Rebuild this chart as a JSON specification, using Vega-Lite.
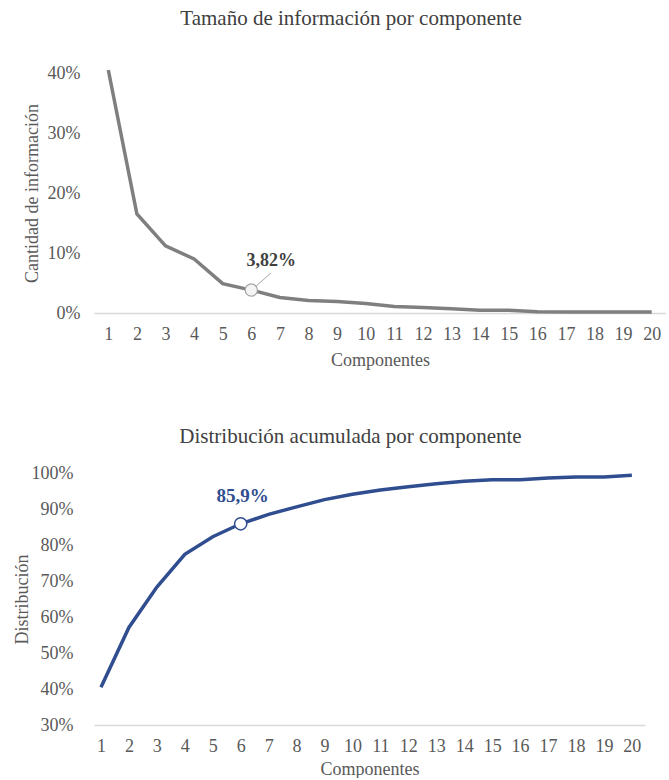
{
  "$schema": "https://vega.github.io/schema/vega-lite/v6.json",
  "padding": {"left": 13, "top": 8, "right": 0, "bottom": 0},
  "spacing": 57,
  "config": {
    "font": "Liberation Serif",
    "view": {"stroke": null},
    "axis": {
      "grid": false,
      "ticks": false,
      "labelFont": "Liberation Serif",
      "titleFont": "Liberation Serif",
      "labelFontSize": 18,
      "titleFontSize": 18,
      "labelColor": "#595959",
      "titleColor": "#595959",
      "titleFontWeight": "normal",
      "labelFlush": false,
      "labelOverlap": false,
      "tickCount": 30
    },
    "title": {
      "font": "Liberation Serif",
      "fontSize": 21,
      "fontWeight": "normal",
      "color": "#404040",
      "anchor": "middle",
      "frame": "group"
    }
  },
  "datasets": {
    "info": [
      {"comp": 1, "pct": 0.405},
      {"comp": 2, "pct": 0.165},
      {"comp": 3, "pct": 0.112},
      {"comp": 4, "pct": 0.09},
      {"comp": 5, "pct": 0.049},
      {"comp": 6, "pct": 0.0382},
      {"comp": 7, "pct": 0.026},
      {"comp": 8, "pct": 0.021},
      {"comp": 9, "pct": 0.019},
      {"comp": 10, "pct": 0.016},
      {"comp": 11, "pct": 0.011},
      {"comp": 12, "pct": 0.009},
      {"comp": 13, "pct": 0.007},
      {"comp": 14, "pct": 0.0045},
      {"comp": 15, "pct": 0.0045},
      {"comp": 16, "pct": 0.002},
      {"comp": 17, "pct": 0.0015},
      {"comp": 18, "pct": 0.0015},
      {"comp": 19, "pct": 0.0015},
      {"comp": 20, "pct": 0.0015}
    ],
    "acum": [
      {"comp": 1, "pct": 0.405},
      {"comp": 2, "pct": 0.571},
      {"comp": 3, "pct": 0.683},
      {"comp": 4, "pct": 0.774},
      {"comp": 5, "pct": 0.823},
      {"comp": 6, "pct": 0.859},
      {"comp": 7, "pct": 0.885},
      {"comp": 8, "pct": 0.906},
      {"comp": 9, "pct": 0.926},
      {"comp": 10, "pct": 0.941},
      {"comp": 11, "pct": 0.953},
      {"comp": 12, "pct": 0.962},
      {"comp": 13, "pct": 0.97},
      {"comp": 14, "pct": 0.977},
      {"comp": 15, "pct": 0.981},
      {"comp": 16, "pct": 0.981},
      {"comp": 17, "pct": 0.986},
      {"comp": 18, "pct": 0.989},
      {"comp": 19, "pct": 0.989},
      {"comp": 20, "pct": 0.994}
    ],
    "topnote": [
      {"comp": 6, "pct": 0.0382, "label": "3,82%", "x1": 6.13, "y1": 0.0433, "x2": 6.69, "y2": 0.0667}
    ],
    "botnote": [
      {"comp": 6, "pct": 0.859, "label": "85,9%"}
    ]
  },
  "vconcat": [
    {
      "width": 572,
      "height": 240,
      "title": {"text": "Tamaño de información por componente", "dx": -29, "offset": 34},
      "layer": [
        {
          "data": {"name": "info"},
          "mark": {"type": "line", "color": "#7f7f7f", "strokeWidth": 3.5},
          "encoding": {
            "x": {
              "field": "comp", "type": "quantitative",
              "scale": {"domain": [0.5, 20.5], "nice": false, "zero": false},
              "axis": {
                "title": "Componentes",
                "values": [1,2,3,4,5,6,7,8,9,10,11,12,13,14,15,16,17,18,19,20],
                "tickCount": 30,
                "format": "d",
                "labelOverlap": false,
                "domainColor": "#d9d9d9",
                "domainWidth": 1.5,
                "labelPadding": 12,
                "titlePadding": 8
              }
            },
            "y": {
              "field": "pct", "type": "quantitative",
              "scale": {"domain": [0, 0.4], "nice": false},
              "axis": {
                "title": "Cantidad de información",
                "values": [0, 0.1, 0.2, 0.3, 0.4],
                "tickCount": 30,
                "format": ".0%",
                "labelOverlap": false,
                "domain": false,
                "labelPadding": 14,
                "titlePadding": 6
              }
            }
          }
        },
        {
          "data": {"name": "topnote"},
          "mark": {"type": "rule", "color": "#a6a6a6", "strokeWidth": 1},
          "encoding": {
            "x": {"field": "x1", "type": "quantitative"},
            "y": {"field": "y1", "type": "quantitative"},
            "x2": {"field": "x2"},
            "y2": {"field": "y2"}
          }
        },
        {
          "data": {"name": "topnote"},
          "mark": {"type": "point", "filled": true, "fill": "#f4f4f4", "stroke": "#a6a6a6", "strokeWidth": 1.2, "size": 150, "opacity": 1},
          "encoding": {
            "x": {"field": "comp", "type": "quantitative"},
            "y": {"field": "pct", "type": "quantitative"}
          }
        },
        {
          "data": {"name": "topnote"},
          "mark": {"type": "text", "fontWeight": "bold", "fontSize": 18, "color": "#404040", "dx": 20, "dy": -29},
          "encoding": {
            "x": {"field": "comp", "type": "quantitative"},
            "y": {"field": "pct", "type": "quantitative"},
            "text": {"field": "label"}
          }
        }
      ]
    },
    {
      "width": 551,
      "height": 252,
      "title": {"text": "Distribución acumulada por componente", "dx": -19, "offset": 17},
      "layer": [
        {
          "data": {"name": "acum"},
          "mark": {"type": "line", "color": "#2f4d8f", "strokeWidth": 3.5},
          "encoding": {
            "x": {
              "field": "comp", "type": "quantitative",
              "scale": {"domain": [0.75, 20.47], "nice": false, "zero": false},
              "axis": {
                "title": "Componentes",
                "values": [1,2,3,4,5,6,7,8,9,10,11,12,13,14,15,16,17,18,19,20],
                "tickCount": 30,
                "format": "d",
                "labelOverlap": false,
                "domainColor": "#d9d9d9",
                "domainWidth": 1.5,
                "labelPadding": 12,
                "titlePadding": 5
              }
            },
            "y": {
              "field": "pct", "type": "quantitative",
              "scale": {"domain": [0.3, 1.0], "nice": false, "zero": false},
              "axis": {
                "title": "Distribución",
                "values": [0.3, 0.4, 0.5, 0.6, 0.7, 0.8, 0.9, 1.0],
                "tickCount": 30,
                "format": ".0%",
                "labelOverlap": false,
                "domain": false,
                "labelPadding": 21,
                "titlePadding": 0
              }
            }
          }
        },
        {
          "data": {"name": "botnote"},
          "mark": {"type": "point", "filled": true, "fill": "#ffffff", "stroke": "#2f4d8f", "strokeWidth": 1.5, "size": 150, "opacity": 1},
          "encoding": {
            "x": {"field": "comp", "type": "quantitative"},
            "y": {"field": "pct", "type": "quantitative"}
          }
        },
        {
          "data": {"name": "botnote"},
          "mark": {"type": "text", "fontWeight": "bold", "fontSize": 19, "color": "#2f4d8f", "dx": 2, "dy": -28},
          "encoding": {
            "x": {"field": "comp", "type": "quantitative"},
            "y": {"field": "pct", "type": "quantitative"},
            "text": {"field": "label"}
          }
        }
      ]
    }
  ]
}
